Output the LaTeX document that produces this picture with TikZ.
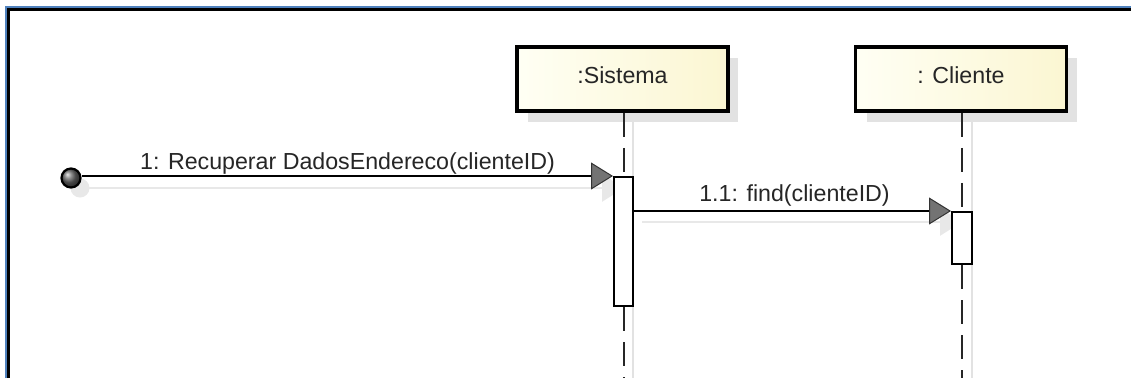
\documentclass[tikz,border=0pt]{standalone}
\usepackage{fontspec}
\setmainfont{Liberation Sans}
\usetikzlibrary{arrows.meta,shadings}
\definecolor{frameblue}{HTML}{4F81BD}
\definecolor{shadowgray}{HTML}{E2E2E2}
\definecolor{boxyellowL}{HTML}{FFFFF4}
\definecolor{boxyellowR}{HTML}{FBF6D2}
\tikzset{
  objbox/.style={draw=black, line width=3.5pt, rectangle, minimum width=211pt, minimum height=64pt,
    left color=boxyellowL, right color=boxyellowR, inner sep=0pt,
    text height=16.6pt, text depth=8pt, font=\fontsize{23.2}{28}\selectfont, text=black!85},
  boxshadow/.style={fill=shadowgray},
  actbox/.style={draw=black, line width=2pt, fill=white, rectangle, inner sep=0pt},
  lifeline/.style={draw=black!85, line width=2pt, dash pattern=on 24pt off 11pt},
  lifeshadow/.style={draw=shadowgray, line width=1.6pt},
  msg/.style={draw=black, line width=2pt, -{Triangle[length=22pt,width=27pt,fill=black!55,color=black!80,line width=1pt]}},
  msgshadow/.style={draw=shadowgray!80, line width=2.5pt, -{Triangle[length=22pt,width=27pt,fill=shadowgray!80,color=shadowgray!80]}},
  msglabel/.style={anchor=base, font=\fontsize{23.2}{28}\selectfont, text=black!85, inner sep=0pt},
  startdot/.style={circle, draw=black, line width=2.2pt, minimum size=19pt, inner sep=0pt, ball color=black!60}
}
\begin{document}
\begin{tikzpicture}[x=1pt,y=-1pt]
\useasboundingbox (0,0) rectangle (1131,378);
\fill[white] (0,0) rectangle (1131,378);
% frame
\draw[frameblue, line width=2pt] (6,378) -- (6,7) -- (1131,7);
\draw[black, line width=2.5pt] (8.5,378) -- (8.5,9.5) -- (1131,9.5);

% box shadows
\fill[boxshadow] (528,58) rectangle (738,122);
\fill[boxshadow] (867,58) rectangle (1077,122);

% lifeline shadows
\draw[lifeshadow] (633,122) -- (633,378);
\draw[lifeshadow] (972,122) -- (972,378);

% message shadows
\draw[msgshadow] (80,188) -- (624,188);
\draw[msgshadow] (642,222) -- (962,222);

% start dot shadow
\fill[shadowgray!80] (80,188) circle (9.5pt);

% objects
\node[objbox] (sis) at (622.5,79) {:Sistema};
\node[objbox] (cli) at (961,79) {: Cliente};

% activations
\node[actbox, minimum width=19pt, minimum height=129pt] (actS) at (623.5,241.5) {};
\node[actbox, minimum width=20pt, minimum height=52pt] (actC) at (962,238) {};

% lifelines
\coordinate (sisEnd) at (623.5,378);
\coordinate (cliEnd) at (962,378);
\draw[lifeline] (sis.south -| actS.north) -- (actS.north);
\draw[lifeline] (actS.south) -- (sisEnd);
\draw[lifeline] (cli.south -| actC.north) -- (actC.north);
\draw[lifeline] (actC.south) -- (cliEnd);

% start point
\node[startdot] (start) at (71,178) {};

% messages
\draw[msg] (start.east |- actS.north west) -- (actS.north west);
\draw[msg] (actS.east |- actC.north west) -- (actC.north west);

% labels
\node[msglabel] (l1) at (347.5,169) {1: Recuperar DadosEndereco(clienteID)};
\node[msglabel] (l2) at (794.5,201) {1.1: find(clienteID)};
\end{tikzpicture}
\end{document}
